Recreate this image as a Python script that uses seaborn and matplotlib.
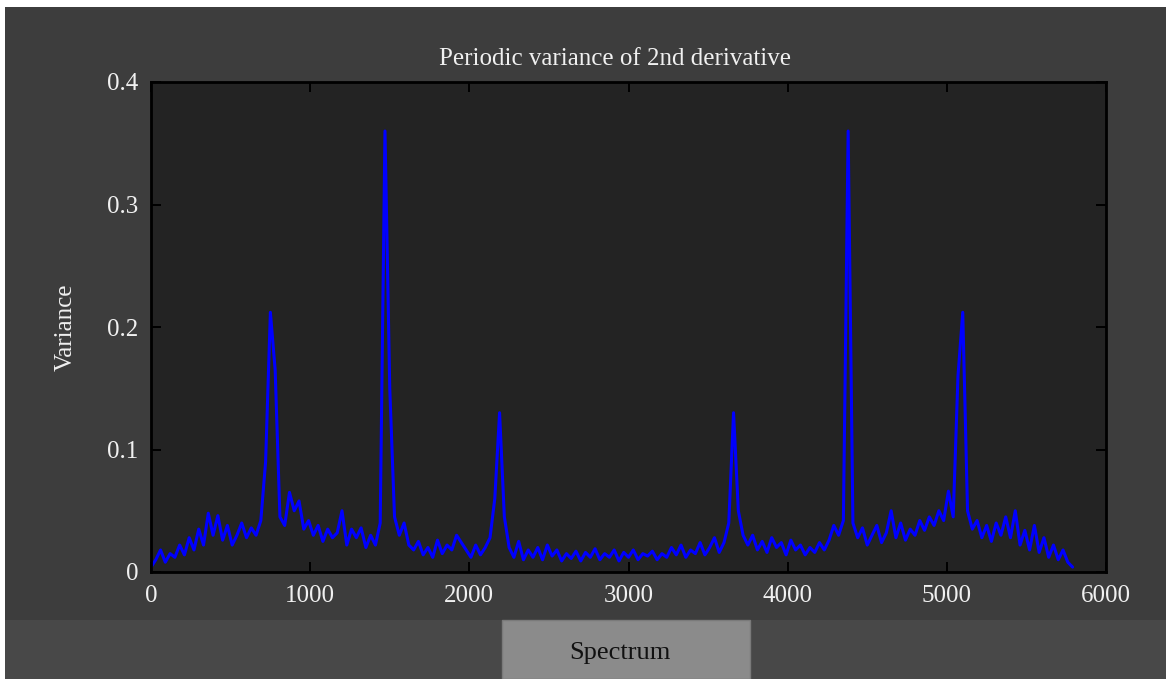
import matplotlib.pyplot as plt
import seaborn as sns
import pandas as pd
from matplotlib.patches import Rectangle

sns.set_theme(style='ticks')
plt.rcParams['font.family'] = ['Liberation Serif', 'DejaVu Serif']

# sample positions along the spectrum (step 30)
x_pos = list(range(0, 5821, 30))

# variance of 2nd derivative (x 0.001)
var_milli = [
    4, 10, 18, 8, 15, 12, 22, 14, 28, 18,
    35, 22, 48, 30, 46, 26, 38, 22, 30, 40,
    28, 36, 30, 42, 90, 212, 165, 45, 38, 65,
    50, 58, 35, 42, 30, 38, 25, 35, 28, 32,
    50, 22, 35, 28, 36, 20, 30, 22, 40, 360,
    150, 45, 30, 40, 22, 18, 25, 14, 20, 12,
    26, 15, 22, 18, 30, 24, 18, 12, 22, 14,
    20, 28, 60, 130, 45, 20, 12, 25, 10, 18,
    12, 20, 10, 22, 13, 18, 9, 15, 11, 17,
    9, 16, 12, 19, 10, 15, 12, 18, 9, 16,
    12, 18, 10, 15, 13, 17, 10, 15, 12, 20,
    14, 22, 12, 18, 15, 24, 14, 20, 28, 16,
    24, 40, 130, 50, 30, 22, 30, 18, 25, 16,
    28, 20, 24, 14, 26, 18, 22, 14, 20, 16,
    24, 18, 26, 38, 30, 42, 360, 40, 28, 36,
    22, 30, 38, 24, 32, 50, 28, 40, 26, 35,
    30, 42, 34, 45, 38, 50, 42, 66, 45, 160,
    212, 50, 35, 42, 28, 38, 25, 40, 30, 45,
    28, 50, 22, 34, 18, 38, 16, 28, 12, 22,
    10, 18, 8, 4,
]

df = pd.DataFrame({'x': x_pos[:len(var_milli)], 'var': [v / 1000 for v in var_milli]})

W, H = 1166, 679
fig = plt.figure(figsize=(W / 100, H / 100), dpi=100, facecolor='white')

# window panels (pixel coords from top-left)
def px_rect(x0, y0, x1, y1, color, ec='none'):
    fig.patches.append(Rectangle((x0 / W, 1 - y1 / H), (x1 - x0) / W, (y1 - y0) / H,
                                 transform=fig.transFigure, facecolor=color,
                                 edgecolor=ec, zorder=-5))

px_rect(5, 7, W, 620, '#3d3d3d')
px_rect(5, 620, W, H, '#484848')
px_rect(502, 620, 750, H, '#8b8b8b', ec='#7a7a7a')
fig.text(620 / W, 1 - 653 / H, 'Spectrum', ha='center', va='center',
         fontsize=19, color='#111111')

ax = fig.add_axes([151 / W, 1 - 572 / H, (1106 - 151) / W, (572 - 82) / H])
ax.set_zorder(2)
ax.set_facecolor('#232323')
sns.lineplot(data=df, x='x', y='var', ax=ax, color='#0000ff', linewidth=2.2)

ax.set_xlim(0, 6000)
ax.set_ylim(0, 0.4)
ax.set_xticks([0, 1000, 2000, 3000, 4000, 5000, 6000])
ax.set_yticks([0, 0.1, 0.2, 0.3, 0.4])
ax.set_yticklabels(['0', '0.1', '0.2', '0.3', '0.4'])
ax.tick_params(direction='in', length=7, width=1.4, color='black',
               labelcolor='#f0f0f0', labelsize=18, top=True, right=True, pad=9)
for s in ax.spines.values():
    s.set_color('black')
    s.set_linewidth(2)

ax.set_xlabel('')
ax.set_ylabel('Variance', color='#f0f0f0', fontsize=18, labelpad=22)
ax.set_title('Periodic variance of 2nd derivative', color='#f0f0f0', fontsize=18,
             pad=12, x=0.486)

fig.savefig('out.png', dpi=100, facecolor=fig.get_facecolor())
